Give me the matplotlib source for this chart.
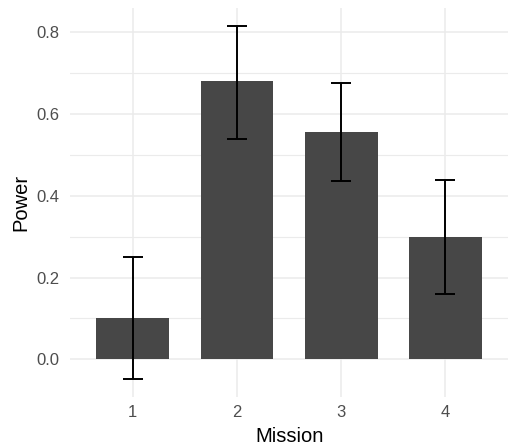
import matplotlib.pyplot as plt

# 数据
missions = [1, 2, 3, 4]
power = [0.10, 0.68, 0.555, 0.30]
err_low = [-0.048, 0.54, 0.437, 0.16]
err_high = [0.251, 0.815, 0.675, 0.438]

plt.rcParams['font.family'] = ['Liberation Sans', 'DejaVu Sans']

fig = plt.figure(figsize=(5.13, 4.46), dpi=100)
ax = fig.add_axes([0.137, 0.11, 0.853, 0.871])

# 网格线（类似 ggplot theme_minimal）
for y in [0.1, 0.3, 0.5, 0.7]:
    ax.axhline(y, color='#ebebeb', lw=0.8, zorder=0)
for y in [0.0, 0.2, 0.4, 0.6, 0.8]:
    ax.axhline(y, color='#ebebeb', lw=1.1, zorder=0)
for x in missions:
    ax.axvline(x, color='#ebebeb', lw=1.1, zorder=0)

ax.bar(missions, power, width=0.7, color='#474747', zorder=2)

yerr = [[p - lo for p, lo in zip(power, err_low)],
        [hi - p for p, hi in zip(power, err_high)]]
ax.errorbar(missions, power, yerr=yerr, fmt='none', ecolor='black',
            elinewidth=1.4, capsize=7.5, capthick=1.4, zorder=3)

ax.set_xlim(0.4, 4.6)
ax.set_ylim(-0.092, 0.858)
ax.set_xticks(missions)
ax.set_xticklabels([str(m) for m in missions])
ax.set_yticks([0.0, 0.2, 0.4, 0.6, 0.8])
ax.set_yticklabels(['0.0', '0.2', '0.4', '0.6', '0.8'])

for s in ax.spines.values():
    s.set_visible(False)
ax.tick_params(length=0, labelsize=12, colors='#4d4d4d', pad=8)
ax.tick_params(axis='x', pad=6)

ax.set_xlabel('Mission', fontsize=14.5, color='black', labelpad=5)
ax.set_ylabel('Power', fontsize=14.5, color='black', labelpad=4)

plt.savefig('out.png', dpi=100)
